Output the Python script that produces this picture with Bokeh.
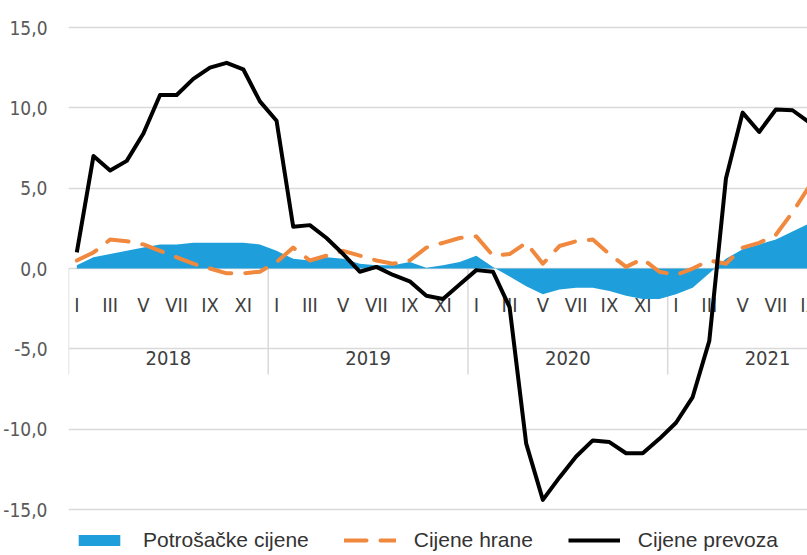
from bokeh.plotting import figure
from bokeh.models import Range1d, Legend, LegendItem, FixedTicker
from bokeh.core.properties import value
from bokeh.embed import file_html
from bokeh.resources import INLINE

# ---- data (monthly, Jan 2018 .. Sep 2021) ----
years = ["2018", "2019", "2020", "2021"]
month_roman = ["I", "II", "III", "IV", "V", "VI", "VII", "VIII", "IX", "X", "XI", "XII"]

potrosacke = [0.2, 0.7, 0.9, 1.1, 1.3, 1.5, 1.5, 1.6, 1.6, 1.6, 1.6, 1.5,
              1.1, 0.6, 0.5, 0.7, 0.6, 0.3, 0.2, 0.2, 0.4, 0.05, 0.2, 0.4,
              0.8, 0.1, -0.5, -1.1, -1.6, -1.3, -1.2, -1.2, -1.4, -1.7, -1.9, -1.9,
              -1.6, -1.2, -0.3, 0.6, 1.2, 1.5, 1.8, 2.3, 2.8]
hrane = [0.5, 1.0, 1.8, 1.7, 1.5, 1.1, 0.7, 0.3, 0.0, -0.3, -0.3, -0.2,
         0.4, 1.3, 0.5, 0.8, 1.1, 0.8, 0.5, 0.3, 0.5, 1.3, 1.6, 1.9,
         2.0, 0.8, 0.9, 1.6, 0.3, 1.4, 1.7, 1.8, 0.9, 0.1, 0.6, -0.2,
         -0.4, 0.0, 0.5, 0.3, 1.3, 1.6, 2.1, 3.5, 5.1]
prevoz = [1.0, 7.0, 6.1, 6.7, 8.4, 10.8, 10.8, 11.8, 12.5, 12.8, 12.4, 10.4,
          9.2, 2.6, 2.7, 1.9, 0.9, -0.2, 0.1, -0.4, -0.8, -1.7, -1.9, -1.0,
          -0.1, -0.2, -2.4, -10.9, -14.4, -13.0, -11.7, -10.7, -10.8, -11.5, -11.5, -10.6,
          -9.6, -8.0, -4.5, 5.6, 9.7, 8.5, 9.9, 9.85, 9.1]

y_ticks = [-15, -10, -5, 0, 5, 10, 15]
y_tick_labels = ["-15,0", "-10,0", "-5,0", "0,0", "5,0", "10,0", "15,0"]

series_names = ["Potrošačke cijene", "Cijene hrane", "Cijene prevoza"]

# ---- derived ----
n = len(prevoz)
x = list(range(n))
lab_x = [i for i in range(n) if i % 2 == 0]
lab_text = [month_roman[i % 12] for i in lab_x]
year_x = [12 * k + 5.5 for k in range(len(years))]
bound_x = [12 * k - 0.5 for k in range(len(years))]

NARROW = "'Liberation Sans Narrow', 'DejaVu Sans Condensed', 'Roboto Condensed', 'Liberation Sans', sans-serif"

p = figure(width=807, height=555, output_backend="svg", toolbar_location=None,
           x_range=Range1d(-0.5, 43.9), y_range=Range1d(-17.862, 15.436),
           x_axis_type=None,
           min_border_left=67, min_border_right=0, min_border_top=20, min_border_bottom=0)
p.outline_line_color = None
p.background_fill_color = "white"
p.border_fill_color = "white"

ticker = FixedTicker(ticks=y_ticks)
p.yaxis.ticker = ticker
p.yaxis.major_label_overrides = {t: l for t, l in zip(y_ticks, y_tick_labels)}
p.yaxis.axis_line_color = None
p.yaxis.major_tick_line_color = None
p.yaxis.minor_tick_line_color = None
p.yaxis.major_label_standoff = 15
p.yaxis.major_label_text_font = NARROW
p.yaxis.major_label_text_font_size = "19px"
p.yaxis.major_label_text_color = "#595959"
p.ygrid.ticker = ticker
p.ygrid.grid_line_color = "#D9D9D9"
p.ygrid.grid_line_width = 1.5

# year separators and category labels
p.segment(x0=bound_x, y0=0, x1=bound_x, y1=-6.6, line_color="#D9D9D9", line_width=1.5)
p.text(x=lab_x, y=-2.24, text=lab_text, text_align="center", text_baseline="middle",
       text_font=value(NARROW), text_font_size="20px", text_color="#404040")
p.text(x=year_x, y=-5.6, text=years, text_align="center", text_baseline="middle",
       text_font=value(NARROW), text_font_size="20px", text_color="#404040")

area = p.varea(x=x, y1=0, y2=potrosacke, fill_color="#1E9FDB")
orange = p.line(x, hrane, line_color="#F0883E", line_width=4, line_dash="22 14",
                line_cap="round", line_join="round")
black = p.line(x, prevoz, line_color="black", line_width=4, line_join="round")

legend = Legend(items=[LegendItem(label=series_names[0], renderers=[area]),
                       LegendItem(label=series_names[1], renderers=[orange]),
                       LegendItem(label=series_names[2], renderers=[black])],
                orientation="horizontal", location=(5, 3),
                glyph_width=52, glyph_height=14, label_standoff=18, spacing=35,
                padding=0, margin=0, border_line_color=None, background_fill_alpha=0,
                label_text_font="Liberation Sans", label_text_font_size="21px",
                label_text_color="#333333")
p.add_layout(legend, "center")

open("out.html", "w").write(file_html(p, INLINE))
